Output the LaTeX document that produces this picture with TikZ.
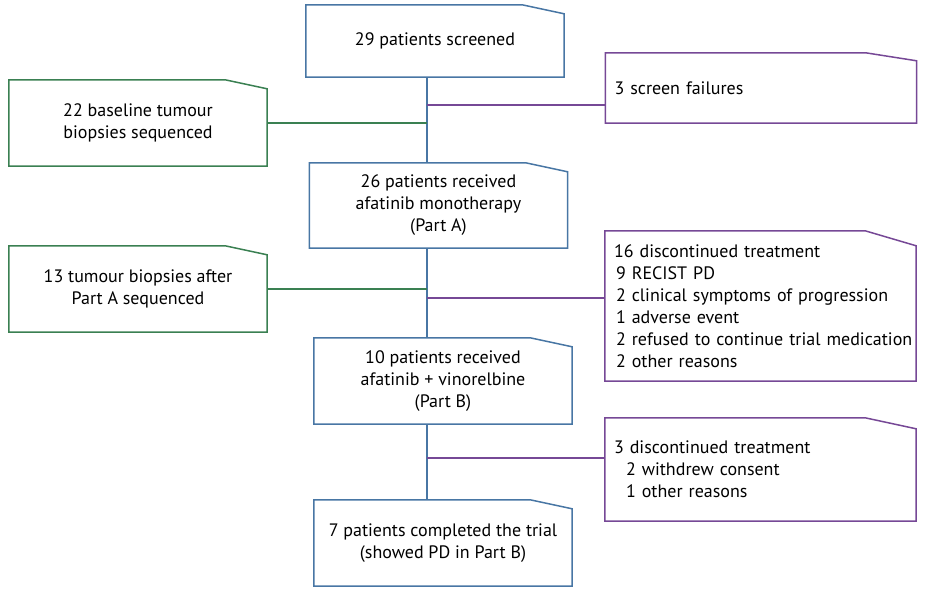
\documentclass[tikz,border=0pt]{standalone}
\usepackage{fontspec}
\setmainfont{PT Sans}
\definecolor{flowblue}{RGB}{72,118,164}
\definecolor{flowgreen}{RGB}{58,128,82}
\definecolor{flowpurple}{RGB}{118,72,150}
% outline with the cut top right corner: name, colour, cut width, cut height
\newcommand{\foldbox}[4]{\draw[#2,line width=1.5pt,line join=miter]
  (#1.south west) -- (#1.north west) -- ([xshift=-#3]#1.north east)
  -- ([yshift=-#4]#1.north east) -- (#1.south east) -- cycle;}

\begin{document}
\begin{tikzpicture}[x=1pt,y=-1pt,
  every node/.style={font=\fontsize{18}{22}\selectfont},
  midbox/.style={rectangle,minimum width=258pt,align=center,inner sep=0pt},
  sidebox/.style={rectangle,text width=293pt,inner xsep=9pt,inner ysep=0pt,align=left},
  trunk/.style={flowblue,line width=1.5pt},
  side/.style={line width=1.5pt}]
\useasboundingbox (0,0) rectangle (933,592);

% Main stages
\node[midbox,minimum height=72pt] (screened) at (435,41) {29 patients screened};
\node[midbox,minimum height=85pt] (partA) at (438.5,205.5) {26 patients received\\afatinib monotherapy\\(Part A)};
\node[midbox,minimum height=86pt] (partB) at (443,381) {10 patients received\\afatinib + vinorelbine\\(Part B)};
\node[midbox,minimum height=86pt] (completed) at (443,543) {7 patients completed the trial\\(showed PD in Part B)};

% Biopsies
\node[midbox,minimum height=86pt] (baseline) at (138,123) {22 baseline tumour\\biopsies sequenced};
\node[midbox,minimum height=86pt] (afterA) at (138,289) {13 tumour biopsies after\\Part A sequenced};

% Drop outs
\node[sidebox,minimum height=70pt] (failures) at (761,88) {3 screen failures};
\node[sidebox,minimum height=150pt] (discA) at (760.5,306) {16 discontinued treatment\\
  \hspace*{2pt}9 RECIST PD\\
  \hspace*{2pt}2 clinical symptoms of progression\\
  \hspace*{2pt}1 adverse event\\
  \mbox{\hspace*{2pt}2 refused to continue trial medication}\\
  \hspace*{2pt}2 other reasons};
\node[sidebox,minimum height=103pt] (discB) at (760.5,469.5) {3 discontinued treatment\\
  \hspace*{12pt}2 withdrew consent\\
  \hspace*{12pt}1 other reasons};

% Outlines
\foldbox{screened}{flowblue}{42pt}{9pt}
\foldbox{partA}{flowblue}{42pt}{9pt}
\foldbox{partB}{flowblue}{42pt}{9pt}
\foldbox{completed}{flowblue}{42pt}{9pt}
\foldbox{baseline}{flowgreen}{42pt}{9pt}
\foldbox{afterA}{flowgreen}{42pt}{9pt}
\foldbox{failures}{flowpurple}{51pt}{8pt}
\foldbox{discA}{flowpurple}{51pt}{15pt}
\foldbox{discB}{flowpurple}{51pt}{11pt}

% Connectors
\coordinate (j1) at (427,105);
\coordinate (j2) at (427,298);
\coordinate (j3) at (427,458);
\draw[trunk] (screened.south -| j1) -- (partA.north -| j1);
\draw[trunk] (partA.south -| j2) -- (partB.north -| j2);
\draw[trunk] (partB.south -| j3) -- (completed.north -| j3);
\draw[side,flowpurple] (j1) -- (j1 -| failures.west);
\draw[side,flowgreen] (baseline.east) -- (baseline.east -| j1);
\draw[side,flowgreen] (afterA.east) -- (afterA.east -| j2);
\draw[side,flowpurple] (j2) -- (j2 -| discA.west);
\draw[side,flowpurple] (j3) -- (j3 -| discB.west);
\end{tikzpicture}
\end{document}
